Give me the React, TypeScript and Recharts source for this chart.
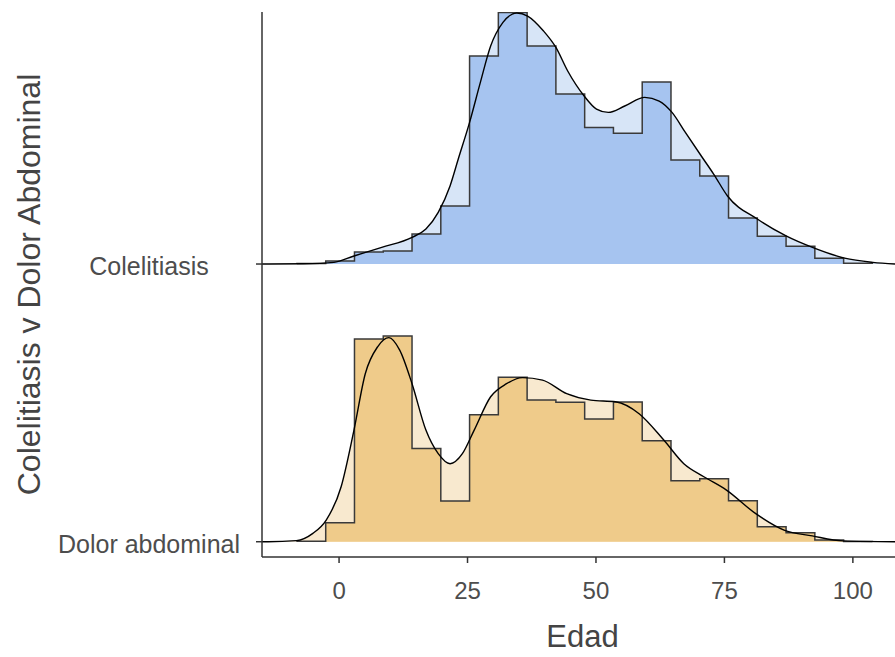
import { ComposedChart, Area, Line, XAxis, YAxis } from "recharts";

// ─── Data ────────────────────────────────────────────────────────────────────
// ridge baselines: 1 = Dolor abdominal, 2 = Colelitiasis; heights are fractions of the row gap
const GROUPS = ["Dolor abdominal", "Colelitiasis"];
const X_TICKS = [0, 25, 50, 75, 100];

// 20 histogram bins, 5.6 years wide
const BIN_EDGES = [
  -8.2, -2.6, 3.0, 8.6, 14.2, 19.8, 25.4, 31.0, 36.6, 42.2, 47.8,
  53.4, 59.0, 64.6, 70.2, 75.8, 81.4, 87.0, 92.6, 98.2, 103.8,
];
const COLE_HIST = [
  0.002, 0.011, 0.043, 0.047, 0.108, 0.209, 0.749, 0.906, 0.785, 0.612,
  0.492, 0.471, 0.655, 0.375, 0.317, 0.166, 0.100, 0.064, 0.021, 0.003,
];
const DOLOR_HIST = [
  0.002, 0.068, 0.730, 0.741, 0.336, 0.147, 0.457, 0.592, 0.510, 0.502,
  0.442, 0.503, 0.364, 0.220, 0.227, 0.148, 0.054, 0.032, 0.006, 0.001,
];

const COLE_DENS_X = [
  -15, -13.8, -6.9, -1.0, 2.9, 8.3, 14.2, 16.9, 19.3, 21.6, 23.2, 25.4, 27.5, 29.5,
  31.9, 34.6, 36.7, 39.8, 42.2, 44.5, 47.7, 50.1, 52.4, 55.6, 59.5, 62.3, 64.8,
  67.4, 70.5, 72.9, 75.6, 81.4, 87.0, 92.5, 98.4, 103.9, 108.2,
];
const COLE_DENS_Y = [
  0, 0, 0.001, 0.006, 0.029, 0.060, 0.096, 0.126, 0.186, 0.281, 0.378, 0.510, 0.654, 0.785,
  0.870, 0.904, 0.893, 0.839, 0.780, 0.695, 0.605, 0.558, 0.546, 0.569, 0.600, 0.587, 0.546,
  0.474, 0.389, 0.324, 0.245, 0.162, 0.101, 0.057, 0.021, 0.006, 0,
];

const DOLOR_DENS_X = [
  -15, -13.8, -8.3, -5.1, -2.5, 0.4, 2.9, 5.1, 7.5, 9.7, 11.8, 14.2, 16.9, 19.3, 21.6,
  24.0, 26.3, 29.5, 32.6, 35.7, 39.6, 44.3, 49.0, 53.8, 58.4, 63.2, 67.1, 71.0, 75.4,
  81.1, 86.6, 92.1, 98.1, 108.2,
];
const DOLOR_DENS_Y = [
  0, 0, 0.004, 0.030, 0.078, 0.198, 0.402, 0.605, 0.702, 0.735, 0.690, 0.569, 0.402, 0.317, 0.281,
  0.317, 0.402, 0.522, 0.569, 0.591, 0.582, 0.533, 0.510, 0.504, 0.461, 0.366, 0.281, 0.234, 0.186,
  0.101, 0.042, 0.021, 0.003, 0,
];

// ─── Helpers ─────────────────────────────────────────────────────────────────
const FONT = "'Liberation Sans', Arial, sans-serif";
const AXIS = "#333333";
const TEXT = "#4D4D4D";

function histSeries(heights: number[], base: number) {
  const last = BIN_EDGES.length - 1;
  return [
    { x: BIN_EDGES[0], y: base },
    ...heights.map((h, i) => ({ x: BIN_EDGES[i], y: base + h })),
    { x: BIN_EDGES[last], y: base },
  ];
}

function densSeries(xs: number[], ys: number[], base: number) {
  return xs.map((x, i) => ({ x, y: base + ys[i] }));
}

const ridges = [
  {
    base: 2, light: "#D7E5F7", dark: "#A6C4F0",
    hist: histSeries(COLE_HIST, 2), dens: densSeries(COLE_DENS_X, COLE_DENS_Y, 2),
  },
  {
    base: 1, light: "#F8E9CF", dark: "#EFCB8A",
    hist: histSeries(DOLOR_HIST, 1), dens: densSeries(DOLOR_DENS_X, DOLOR_DENS_Y, 1),
  },
];

function YTick({ x, y, payload }: any) {
  return (
    <text x={x - 107} y={y} dy={11} textAnchor="middle" fill={TEXT} fontSize={25} fontFamily={FONT}>
      {GROUPS[payload.value - 1]}
    </text>
  );
}

// ─── Chart ───────────────────────────────────────────────────────────────────
export default function App() {
  return (
    <div style={{ position: "absolute", left: 0, top: 0, background: "#fff" }}>
      <ComposedChart width={895} height={657} margin={{ top: 12, right: 0, bottom: 0, left: 0 }}>
        <XAxis
          type="number" dataKey="x" domain={[-15, 108.2]} ticks={X_TICKS} allowDataOverflow
          height={100} tickSize={6} tickMargin={19}
          axisLine={{ stroke: AXIS, strokeWidth: 1.5 }} tickLine={{ stroke: AXIS, strokeWidth: 1.5 }}
          tick={{ fill: TEXT, fontSize: 24, fontFamily: FONT }}
          label={(p: any) => (
            <text x={p.viewBox.x + p.viewBox.width / 2 + 4} y={p.viewBox.y + 90} textAnchor="middle"
              fill="#444" fontSize={31} fontFamily={FONT}>Edad</text>
          )}
        />
        <YAxis
          type="number" domain={[0.945, 2.9075]} ticks={[1, 2]} allowDataOverflow
          width={262} tickSize={6} tickMargin={0}
          axisLine={{ stroke: AXIS, strokeWidth: 1.5 }} tickLine={{ stroke: AXIS, strokeWidth: 1.5 }}
          tick={<YTick />}
          label={(p: any) => {
            const cx = 40, cy = p.viewBox.y + p.viewBox.height / 2;
            return (
              <text x={cx} y={cy} transform={`rotate(-90 ${cx} ${cy})`} textAnchor="middle"
                fill="#444" fontSize={32} fontFamily={FONT}>Colelitiasis v Dolor Abdominal</text>
            );
          }}
        />
        {ridges.map((r) => [
          <Area key={`d${r.base}`} data={r.dens} dataKey="y" type="monotone" baseValue={r.base}
            fill={r.light} fillOpacity={1} stroke="none" isAnimationActive={false} />,
          <Area key={`h${r.base}`} data={r.hist} dataKey="y" type="stepAfter" baseValue={r.base}
            fill={r.dark} fillOpacity={1} stroke="#3a3a3a" strokeWidth={1.5} isAnimationActive={false} />,
          <Line key={`l${r.base}`} data={r.dens} dataKey="y" type="monotone" stroke="#000"
            strokeWidth={1.4} dot={false} activeDot={false} isAnimationActive={false} />,
        ])}
      </ComposedChart>
    </div>
  );
}
